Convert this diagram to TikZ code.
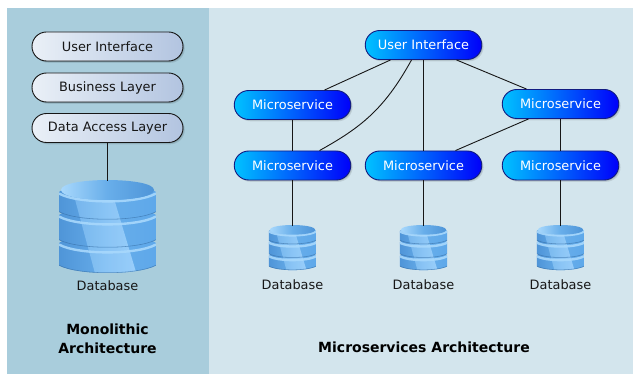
\documentclass[tikz,border=0pt]{standalone}
\usepackage{fontspec}
\setmainfont{DejaVu Sans}
\usetikzlibrary{shadows,calc}
\definecolor{panelL}{HTML}{A9CDDC}
\definecolor{panelR}{HTML}{D3E5ED}
\definecolor{inkC}{HTML}{161616}
\definecolor{dbA}{HTML}{4F95D8}
\definecolor{dbB}{HTML}{68AEEA}
\definecolor{dbC}{HTML}{5EA8EA}
\definecolor{dbHi}{HTML}{A8D8FF}
\definecolor{dbRim}{HTML}{A8D8FC}
\definecolor{dbDark}{HTML}{33699F}
\tikzset{
  x=1pt,y=-1pt,
  softshadow/.style={general shadow={fill=black,opacity=.10,shadow xshift=1.8pt,shadow yshift=-1.8pt},
                     general shadow={fill=black,opacity=.12,shadow xshift=.9pt,shadow yshift=-.9pt}},
  pill/.style={rounded corners=14.5pt,minimum height=29pt,inner sep=0pt,font=\fontsize{12.9}{15}\selectfont,softshadow},
  layerbox/.style={pill,minimum width=151pt,draw=inkC,line width=.9pt,text=inkC,
     left color={rgb,255:red,234;green,240;blue,247},right color={rgb,255:red,178;green,196;blue,224}},
  svcbox/.style={pill,minimum width=116.5pt,draw={rgb,255:red,18;green,28;blue,130},line width=.9pt,text=white,
     left color={rgb,255:red,0;green,194;blue,255},right color={rgb,255:red,0;green,0;blue,250}},
  link/.style={draw=inkC,line width=.9pt},
  lbl/.style={text=inkC,inner sep=0pt,font=\fontsize{12.9}{15}\selectfont},
  ttl/.style={text=black,inner sep=0pt,align=center,font=\fontsize{14}{19}\selectfont\bfseries},
}
\newcommand{\dblayer}[2]{% top, bottom
  \begin{scope}
    \clip (-48.5,#1) .. controls (-30,#1-14) and (30,#1-14) .. (48.5,#1) -- (48.5,#2)
       .. controls (30,#2+10) and (-30,#2+10) .. (-48.5,#2) -- cycle;
    \shade[left color=dbA,right color=dbC,middle color=dbB] (-48.5,#1-12) rectangle (48.5,#2+10);
    \shade[left color=dbB!75!dbHi,right color=dbHi,opacity=.8]
      (-41.8,-15) -- (-3.6,-15) -- (30.9,100) -- (-10.7,100) -- cycle;
    \draw[dbDark,line width=1.1pt,opacity=.6] (-48.5,#2) .. controls (-30,#2+10) and (30,#2+10) .. (48.5,#2);
    \draw[dbRim,line width=2.4pt,opacity=.9] (-48.5,#1+1.5) .. controls (-30,#1+12) and (30,#1+12) .. (48.5,#1+1.5);
  \end{scope}}
\newcommand{\dbicon}[3]{% x, y of top centre, scale
  \begin{scope}[shift={(#1,#2)},scale=#3]
    \dblayer{63}{85.5}
    \dblayer{35}{60}
    \dblayer{12}{32}
    \shade[left color=dbRim,right color=dbA,middle color=dbB] (-46.5,10) .. controls (-46.5,-3.3) and (46.5,-3.3) .. (46.5,10)
      .. controls (46.5,23.3) and (-46.5,23.3) .. (-46.5,10) -- cycle;
  \end{scope}}
\begin{document}
\begin{tikzpicture}
\useasboundingbox (0,0) rectangle (633,374);
\fill[white] (0,0) rectangle (633,374);
\fill[panelL] (7,8) rectangle (209,374);
\fill[panelR] (209,8) rectangle (633,374);

\dbicon{107.5}{180}{1}
\dbicon{292.5}{225}{.485}
\dbicon{423.5}{225}{.485}
\dbicon{560.5}{225}{.485}

\node[layerbox] (lui) at (107.5,46.5) {User Interface};
\node[layerbox] (lbl2) at (107.5,87.5) {Business Layer};
\node[layerbox] (ldal) at (107.5,128) {Data Access Layer};

\node[svcbox] (ui) at (423.5,45) {User Interface};
\node[svcbox] (m1) at (292.5,105) {Microservice};
\node[svcbox] (m2) at (560.5,104) {Microservice};
\node[svcbox] (m3) at (292.5,165.5) {Microservice};
\node[svcbox] (m4) at (423.5,165.5) {Microservice};
\node[svcbox] (m5) at (560.5,165.5) {Microservice};

\coordinate (dbbig) at (ldal.south |- 0,181);
\coordinate (dbone) at (m3.south |- 0,226);
\coordinate (dbtwo) at (m4.south |- 0,226);
\coordinate (dbthree) at (m5.south |- 0,226);

\draw[link] (ldal.south) -- (dbbig);
\draw[link] ($(ui.south)+(-33,0)$) -- ($(m1.north)+(32,0)$);
\draw[link] ($(ui.south)+(-12,0)$) .. controls (384,110) and (360,128) .. ($(m3.north)+(27,0)$);
\draw[link] (ui.south) -- (m4.north);
\draw[link] ($(ui.south)+(33,0)$) -- ($(m2.north)+(-34,0)$);
\draw[link] ($(m2.south)+(-32,0)$) -- ($(m4.north)+(32,0)$);
\draw[link] (m1.south) -- (m3.north);
\draw[link] (m2.south) -- (m5.north);
\draw[link] (m3.south) -- (dbone);
\draw[link] (m4.south) -- (dbtwo);
\draw[link] (m5.south) -- (dbthree);

\node[lbl] (t0) at (107.5,286) {Database};
\node[lbl] (t1) at (292.5,285) {Database};
\node[lbl] (t2) at (423.5,285) {Database};
\node[lbl] (t3) at (560.5,285) {Database};
\node[ttl] (tm) at (107.5,338.5) {Monolithic\\Architecture};
\node[ttl] (ts) at (424,347.5) {Microservices Architecture};
\end{tikzpicture}
\end{document}
